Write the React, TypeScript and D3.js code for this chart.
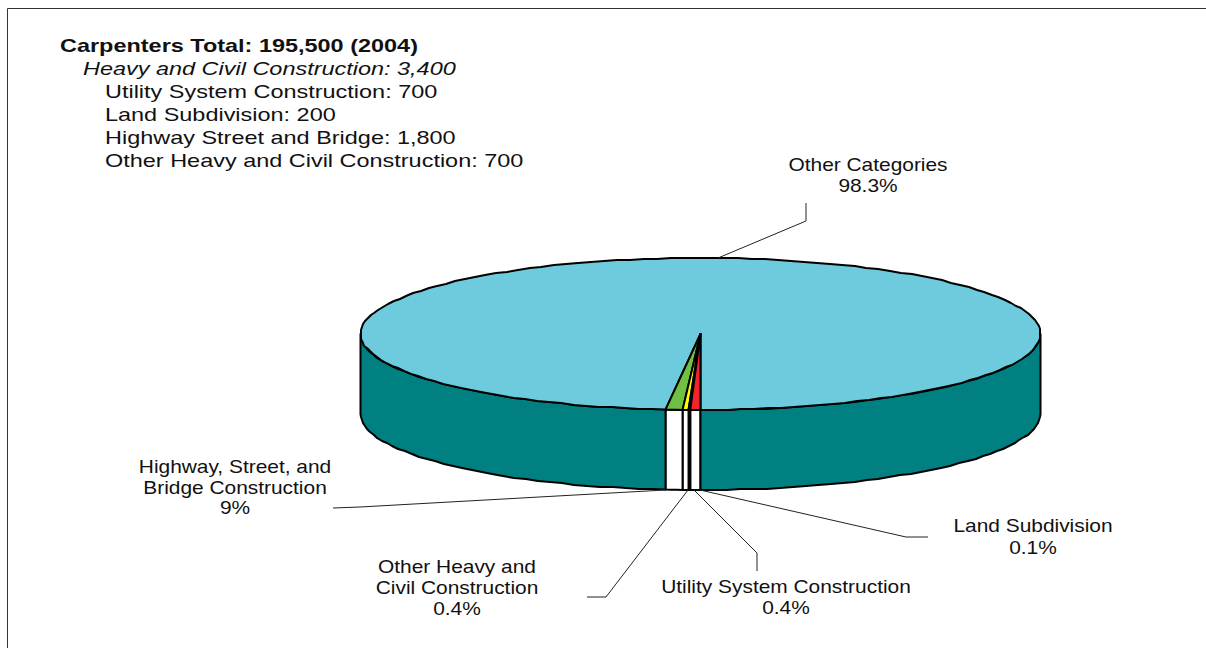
import React from "react";
import * as d3 from "d3";

const categories = ["Utility System Construction", "Land Subdivision", "Other Heavy and Civil Construction", "Highway, Street, and Bridge Construction", "Other Categories"];
const shares = [0.48, 0.08, 0.28, 0.8, 98.36];
const sliceColors = ["#F0252B", "#111111", "#FFFF00", "#70C044", "#6DCBDD"];
const sideColors = ["#FFFFFF", "#FFFFFF", "#FFFFFF", "#FFFFFF", "#008080"];

const headerLines = [
  { text: "Carpenters Total: 195,500 (2004)", x: 60, y: 52, bold: true, italic: false },
  { text: "Heavy and Civil Construction: 3,400", x: 83, y: 75, bold: false, italic: true },
  { text: "Utility System Construction: 700", x: 105, y: 98, bold: false, italic: false },
  { text: "Land Subdivision: 200", x: 105, y: 121, bold: false, italic: false },
  { text: "Highway Street and Bridge: 1,800", x: 105, y: 144, bold: false, italic: false },
  { text: "Other Heavy and Civil Construction: 700", x: 105, y: 167, bold: false, italic: false },
];

const callouts = [
  { lines: ["Other Categories", "98.3%"], x: 868, y: [171, 192], leader: [[806, 203], [806, 221], [718, 258]] },
  { lines: ["Highway, Street, and", "Bridge Construction", "9%"], x: 235, y: [473, 494, 514], leader: [[333, 508], [360, 507], [665, 490]] },
  { lines: ["Other Heavy and", "Civil Construction", "0.4%"], x: 457, y: [573, 594, 615], leader: [[587, 597], [606, 597], [688, 490]] },
  { lines: ["Utility System Construction", "0.4%"], x: 786, y: [593, 614], leader: [[757, 571], [757, 553], [694, 490]] },
  { lines: ["Land Subdivision", "0.1%"], x: 1033, y: [532, 554], leader: [[928, 537], [906, 537], [700, 490]] },
];

const cx = 700.5, cy = 334, rx = 340, ry = 76, depth = 80;
const FONT = "'Liberation Sans', Arial, sans-serif";

const pt = (a: number, dy = 0): [number, number] => [cx + rx * Math.sin(a), cy - ry * Math.cos(a) + dy];

function rim(a0: number, a1: number, dy = 0): [number, number][] {
  const span = Math.abs(a1 - a0);
  const rough = span > 0.5;
  const n = rough ? Math.ceil(span / 0.04) : 3;
  return d3.range(n + 1).map((i) => {
    const p = pt(a0 + ((a1 - a0) * i) / n, dy);
    if (!rough || i === 0 || i === n) return p;
    return [Math.round(p[0]), Math.round(p[1])] as [number, number];
  });
}

const lineGen = d3.line<[number, number]>();

export default function App() {
  const arcs = d3.pie<number>().sort(null).startAngle(Math.PI).endAngle(3 * Math.PI)(shares);
  const sides: { d: string; fill: string; key: string }[] = [];
  arcs.forEach((s, i) => {
    const ranges: [number, number][] = [];
    const lo = Math.PI / 2, hi = (3 * Math.PI) / 2;
    const a = Math.max(s.startAngle, lo), b = Math.min(s.endAngle, hi);
    if (b > a) ranges.push([a, b]);
    const a2 = Math.max(s.startAngle, lo + 2 * Math.PI), b2 = Math.min(s.endAngle, hi + 2 * Math.PI);
    if (b2 > a2) ranges.push([a2, b2]);
    ranges.forEach(([p, q], j) => {
      const pts = [...rim(p, q), ...rim(q, p, depth)];
      sides.push({ d: lineGen(pts)! + "Z", fill: sideColors[i], key: `${i}-${j}` });
    });
  });
  return (
    <svg width={1206} height={648} style={{ position: "absolute", left: 0, top: 0, background: "#fff" }} fontFamily={FONT} fontSize={17.5} fill="#111">
      <path d="M1206,8.5H7.5V648" fill="none" stroke="#333" strokeWidth={1} />
      {sides.map((s) => (
        <path key={s.key} d={s.d} fill={s.fill} stroke="#000" strokeWidth={2} strokeLinejoin="round" />
      ))}
      {arcs.map((s, i) => {
        const pts: [number, number][] = [[cx, cy], ...rim(s.startAngle, s.endAngle)];
        return <path key={categories[i]} d={lineGen(pts)! + "Z"} fill={sliceColors[i]} stroke="#000" strokeWidth={2} strokeLinejoin="round" />;
      }).reverse()}
      {callouts.map((c) => (
        <g key={c.lines.join()}>
          <path d={lineGen(c.leader as [number, number][])!} fill="none" stroke="#222" strokeWidth={1} />
          {c.lines.map((t, i) => (
            <text key={i} transform={`translate(${c.x},${c.y[i]}) scale(1.195,1)`} textAnchor="middle">{t}</text>
          ))}
        </g>
      ))}
      {headerLines.map((h) => (
        <text key={h.text} transform={`translate(${h.x},${h.y}) scale(1.34,1)`} fontWeight={h.bold ? "bold" : "normal"} fontStyle={h.italic ? "italic" : "normal"}>{h.text}</text>
      ))}
    </svg>
  );
}
